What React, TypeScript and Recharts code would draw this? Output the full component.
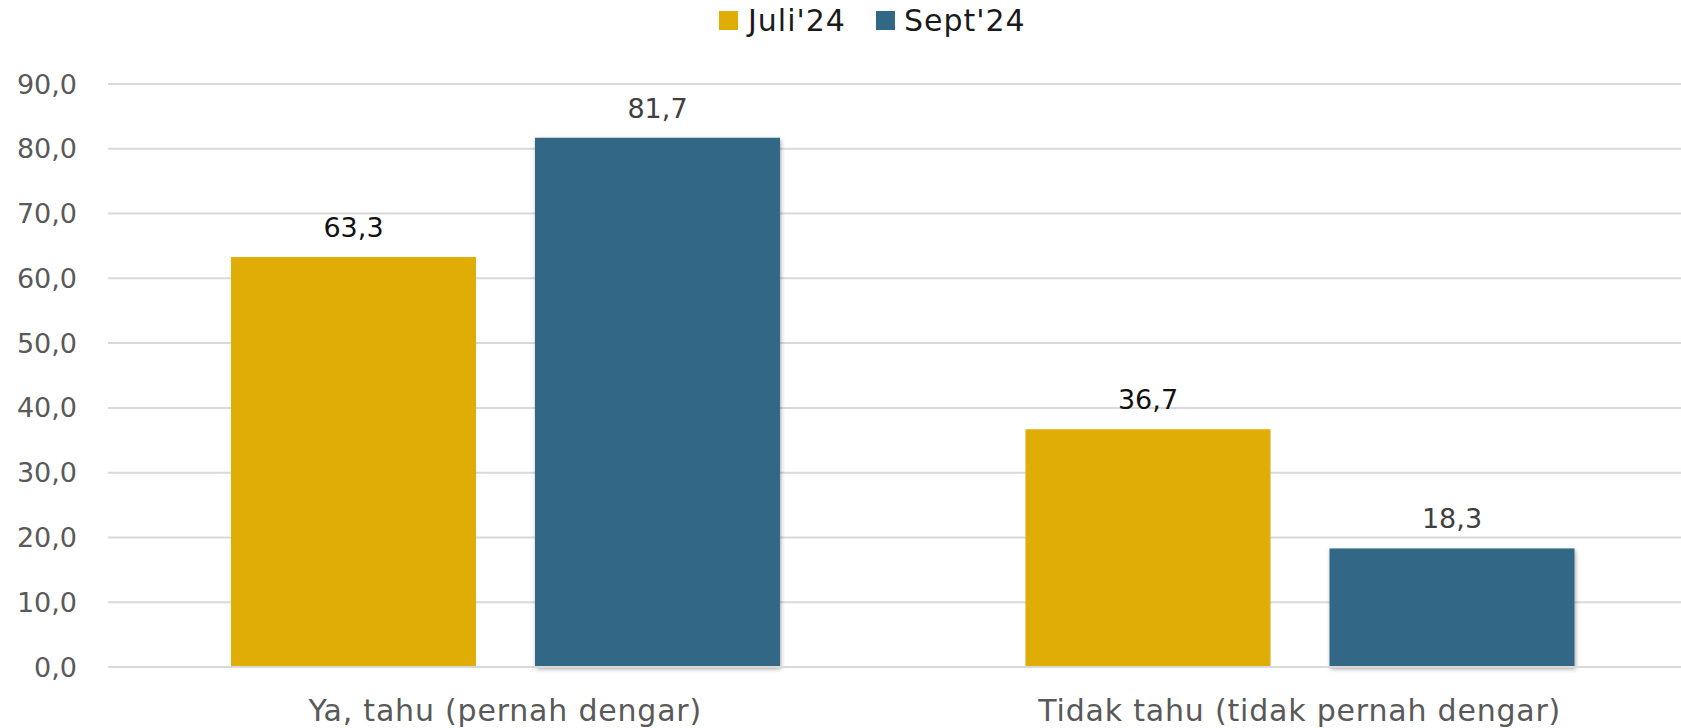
import { Bar, BarChart, CartesianGrid, LabelList, XAxis, YAxis } from 'recharts';

// Survey answers, two waves (Juli vs Sept 2024), percent.
const categories = ['Ya, tahu (pernah dengar)', 'Tidak tahu (tidak pernah dengar)'];
const juli = [63.3, 36.7];
const sept = [81.7, 18.3];
const yTicks = [0, 10, 20, 30, 40, 50, 60, 70, 80, 90];

const JULI = '#E0AC06';
const SEPT = '#316886';
const FONT = '"DejaVu Sans", sans-serif';

const data = categories.map((name, i) => ({ name, juli: juli[i], sept: sept[i] }));

const fmt = (v: number) => v.toFixed(1).replace('.', ',');

function ShadowBar(props: any) {
  const { x, y, width, height, fill } = props;
  return <rect x={x} y={y} width={width} height={height} fill={fill} filter="url(#bar-shadow)" />;
}

export default function App() {
  return (
    <div
      style={{
        position: 'absolute',
        left: 0,
        top: 0,
        width: 1681,
        height: 728,
        overflow: 'hidden',
        background: '#fff',
        fontFamily: FONT,
      }}
    >
      <div
        style={{
          position: 'absolute',
          top: 3,
          left: 719,
          display: 'flex',
          alignItems: 'center',
          fontSize: 30,
          letterSpacing: 1,
          color: '#1a1a1a',
          zIndex: 2,
        }}
      >
        <span style={{ width: 19, height: 19, background: JULI, display: 'inline-block', marginRight: 10 }} />
        <span style={{ marginRight: 30 }}>Juli'24</span>
        <span style={{ width: 19, height: 19, background: SEPT, display: 'inline-block', marginRight: 9 }} />
        <span>Sept'24</span>
      </div>
      <BarChart
        width={1740}
        height={728}
        data={data}
        margin={{ top: 84, right: 43, bottom: 0, left: 0 }}
        barSize={245}
        barGap={59}
      >
        <defs>
          <filter id="bar-shadow" x="-5%" y="-5%" width="110%" height="110%">
            <feDropShadow dx="1" dy="2" stdDeviation="2" floodColor="#000" floodOpacity="0.35" />
          </filter>
        </defs>
        <CartesianGrid stroke="#D9D9D9" strokeWidth={2} vertical={false} />
        <XAxis
          dataKey="name"
          axisLine={{ stroke: '#D9D9D9', strokeWidth: 2 }}
          tickLine={false}
          tickSize={0}
          tickMargin={33}
          height={61}
          tick={{ fill: '#595959', fontSize: 30, fontFamily: FONT, letterSpacing: 0.8 }}
        />
        <YAxis
          domain={[0, 90]}
          ticks={yTicks}
          axisLine={false}
          tickLine={false}
          tickSize={0}
          tickMargin={31}
          width={108}
          tickFormatter={fmt}
          tick={{ fill: '#595959', fontSize: 27, fontFamily: FONT }}
        />
        <Bar dataKey="juli" fill={JULI} isAnimationActive={false}>
          <LabelList dataKey="juli" position="top" offset={20} formatter={fmt} fill="#111" fontSize={27} fontFamily={FONT} />
        </Bar>
        <Bar dataKey="sept" fill={SEPT} shape={ShadowBar} isAnimationActive={false}>
          <LabelList dataKey="sept" position="top" offset={20} formatter={fmt} fill="#404040" fontSize={27} fontFamily={FONT} />
        </Bar>
      </BarChart>
    </div>
  );
}
